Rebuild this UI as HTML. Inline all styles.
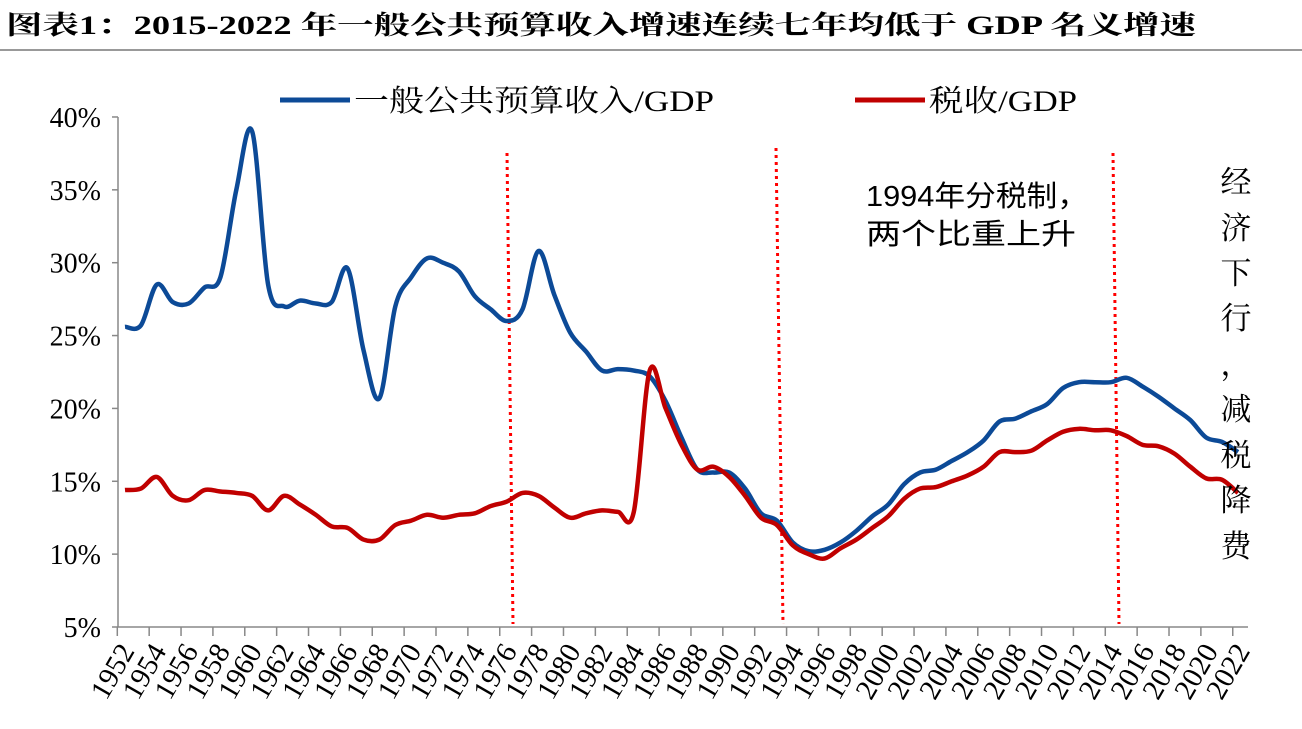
<!DOCTYPE html>
<html><head><meta charset="utf-8"><style>
html,body{margin:0;padding:0;background:#fff;width:1302px;height:729px;overflow:hidden}
</style></head><body>
<svg id="s" width="1302" height="729" xmlns="http://www.w3.org/2000/svg" style="position:absolute;left:0;top:0">
<text x="6" y="34" font-family="'Liberation Serif','Noto Serif CJK SC',serif" font-weight="bold" font-size="26" textLength="1190" lengthAdjust="spacingAndGlyphs" fill="#000">图表1：2015-2022 年一般公共预算收入增速连续七年均低于 GDP 名义增速</text>
<line x1="0" y1="50" x2="1302" y2="50" stroke="#999" stroke-width="2"/>
<g id="ax" stroke="#888" stroke-width="1.5" fill="none"></g>
<g id="lbl" font-family="'Liberation Serif',serif" font-size="29" fill="#000"></g>
<g id="yl" font-family="'Liberation Serif',serif" font-size="28" fill="#000"></g>
<line x1="507" y1="153" x2="513" y2="624" stroke="#ff0000" stroke-width="3" stroke-dasharray="3,4"/>
<line x1="776" y1="148" x2="783" y2="624" stroke="#ff0000" stroke-width="3" stroke-dasharray="3,4"/>
<line x1="1113" y1="153" x2="1119" y2="624" stroke="#ff0000" stroke-width="3" stroke-dasharray="3,4"/>
<path id="pb" fill="none" stroke="#0c4a97" stroke-width="4.5" stroke-linejoin="round"/>
<path id="pr" fill="none" stroke="#c00000" stroke-width="4.5" stroke-linejoin="round"/>
<line x1="280" y1="100" x2="350" y2="100" stroke="#0c4a97" stroke-width="5"/>
<text x="354" y="111" font-family="'Liberation Serif','Noto Serif CJK SC',serif" font-size="30" textLength="360" lengthAdjust="spacingAndGlyphs">一般公共预算收入/GDP</text>
<line x1="855" y1="100" x2="925" y2="100" stroke="#c00000" stroke-width="5"/>
<text x="929" y="111" font-family="'Liberation Serif','Noto Serif CJK SC',serif" font-size="30" textLength="148" lengthAdjust="spacingAndGlyphs">税收/GDP</text>
<text font-family="'Liberation Sans','Noto Sans CJK SC',sans-serif" font-size="29"><tspan x="866" y="206" textLength="222" lengthAdjust="spacingAndGlyphs">1994年分税制，</tspan><tspan x="866" y="244" textLength="210" lengthAdjust="spacingAndGlyphs">两个比重上升</tspan></text>
<g font-family="'Liberation Serif','Noto Serif CJK SC',serif" font-size="31" text-anchor="middle">
<text x="1236" y="193">经</text><text x="1236" y="239">济</text><text x="1236" y="284">下</text><text x="1236" y="329">行</text><text x="1236" y="375">，</text><text x="1236" y="420">减</text><text x="1236" y="466">税</text><text x="1236" y="511">降</text><text x="1236" y="557">费</text>
</g>
</svg>
<script>
var B=[25.6,25.7,28.5,27.3,27.2,28.3,29,35,39,28.5,27,27.4,27.2,27.3,29.6,24,20.7,27,29,30.3,30,29.4,27.7,26.8,26,26.8,30.8,27.8,25.2,23.9,22.6,22.7,22.6,22.2,20.5,18,15.8,15.6,15.6,14.5,12.8,12.3,10.8,10.2,10.3,10.8,11.6,12.6,13.4,14.8,15.6,15.8,16.4,17,17.8,19.1,19.3,19.8,20.3,21.4,21.8,21.8,21.8,22.1,21.5,20.8,20,19.2,18,17.7,17];
var R=[14.4,14.5,15.3,14,13.7,14.4,14.3,14.2,14,13,14,13.4,12.7,11.9,11.8,11,11,12,12.3,12.7,12.5,12.7,12.8,13.3,13.6,14.2,14,13.2,12.5,12.8,13,12.9,12.9,22.6,20,17.5,15.8,16,15.3,14,12.5,12,10.6,10,9.7,10.4,11,11.8,12.6,13.8,14.5,14.6,15,15.4,16,17,17,17.1,17.8,18.4,18.6,18.5,18.5,18.1,17.5,17.4,16.9,16,15.2,15.1,14.2];
function X(i){return 125+15.9*i}
function Y(v){return 627-(v-5)*72.86/5}
function path(d){var p=d.map(function(v,i){return[X(i),Y(v)]});var s="M"+p[0][0]+","+p[0][1];
for(var i=0;i<p.length-1;i++){var a=p[i-1]||p[i],b=p[i],c=p[i+1],e=p[i+2]||c;
s+="C"+(b[0]+(c[0]-a[0])/6)+","+(b[1]+(c[1]-a[1])/6)+" "+(c[0]-(e[0]-b[0])/6)+","+(c[1]-(e[1]-b[1])/6)+" "+c[0]+","+c[1];}return s;}
document.getElementById("pb").setAttribute("d",path(B));
document.getElementById("pr").setAttribute("d",path(R));
var ns="http://www.w3.org/2000/svg",ax=document.getElementById("ax"),lb=document.getElementById("lbl"),yl=document.getElementById("yl");
function el(t,a,p){var e=document.createElementNS(ns,t);for(var k in a)e.setAttribute(k,a[k]);p.appendChild(e);return e}
el("line",{x1:118,y1:117,x2:118,y2:627},ax);
el("line",{x1:117,y1:627,x2:1248,y2:627},ax);
for(var v=5;v<=40;v+=5){var y=Y(v);el("line",{x1:112,y1:y,x2:118,y2:y},ax);
var t=el("text",{x:101,y:y+10,"text-anchor":"end"},yl);t.textContent=v+"%";}
for(var k=0;k<=35;k++){var x=117.3+31.87*k;el("line",{x1:x,y1:627,x2:x,y2:636},ax);
var cx=x+8;var t=el("text",{x:0,y:0,"text-anchor":"end",transform:"translate("+(cx+10)+",651) rotate(-60)"},lb);t.textContent=1952+2*k;}
</script>
</body></html>
